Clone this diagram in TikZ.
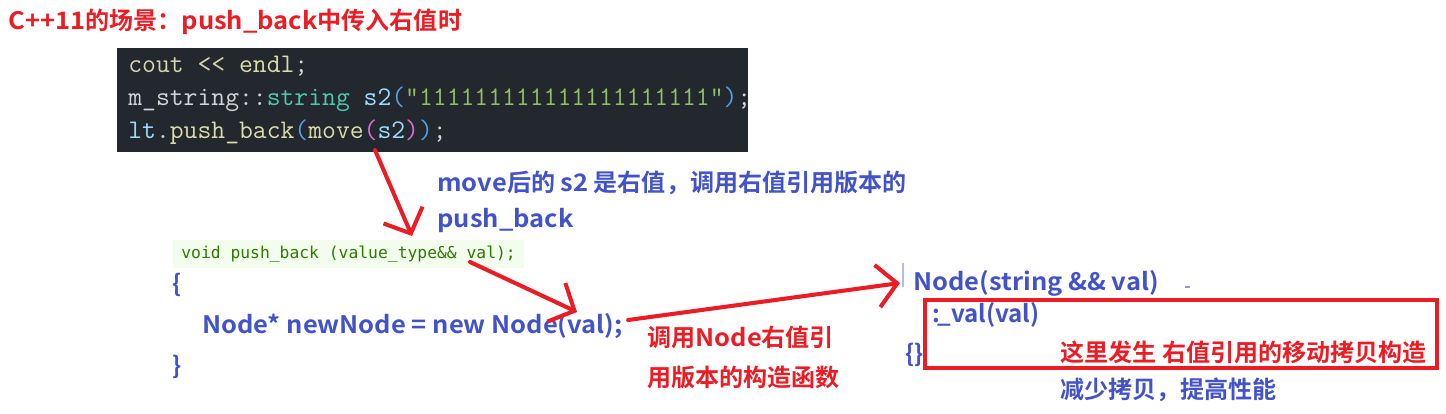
\documentclass[tikz,border=0pt]{standalone}
\usepackage{fontspec}
\usetikzlibrary{arrows.meta}
\newfontfamily\cjk{Noto Sans CJK SC}[BoldFont={* Bold}]
\newfontfamily\latw{Noto Sans CJK SC}[BoldFont={* Bold}, FakeStretch=1.06]
\newfontfamily\declfont{DejaVu Sans Mono}
\newcommand\lat[1]{{\latw\bfseries #1}}
\definecolor{codebg}{HTML}{23272E}
\definecolor{hlred}{HTML}{EC1C24}
\definecolor{noteblue}{HTML}{4252C8}
\definecolor{greenbg}{HTML}{F3FDEE}
\definecolor{greentxt}{HTML}{2F7A00}
\definecolor{cpale}{HTML}{D8D2B0}
\definecolor{cyellow}{HTML}{DCDCAA}
\definecolor{cteal}{HTML}{4EC9B0}
\definecolor{cblue}{HTML}{9CDCFE}
\definecolor{cparen}{HTML}{4FA3E8}
\definecolor{cpink}{HTML}{DA70D6}
\definecolor{cstr}{HTML}{8CC265}
\definecolor{cwhite}{HTML}{D4D4D4}
\tikzset{
  note/.style={font=\cjk\bfseries\fontsize{13.7pt}{16pt}\selectfont, text=noteblue, inner sep=0pt, anchor=west},
  rednote/.style={note, text=hlred},
  latnote/.style={note, font=\latw\bfseries\fontsize{13.7pt}{16pt}\selectfont},
  codeline/.style={font=\ttfamily\fontsize{15.3pt}{18pt}\selectfont, text=cwhite, inner sep=0pt, anchor=west},
  redarrow/.style={draw=hlred, line width=2.3pt, line cap=round,
    -{Straight Barb[length=4mm,width=8.5mm]}},
}
\begin{document}
\begin{tikzpicture}[x=0.02cm,y=-0.02cm]
\useasboundingbox (0,0) rectangle (1446,413);
% title
\node[rednote] (title) at (8,22) {\lat{C++11}的场景：\lat{push\_back}中传入右值时};
% code screenshot
\node[fill=codebg, inner sep=0pt, minimum width=12.62cm, minimum height=2.08cm, anchor=north west] (codebox) at (117,48) {};
\node[codeline] (code1) at (128,66) {\textcolor{cpale}{cout} \textcolor{cpale}{<{}<} \textcolor{cyellow}{endl};};
\node[codeline] (code2) at (128,99) {m\_string::\textcolor{cteal}{string} \textcolor{cblue}{s2}\textcolor{cparen}{(}\textcolor{cstr}{"111111111111111111111"}\textcolor{cparen}{)};};
\node[codeline] (code3) at (128,132) {\textcolor{cblue}{lt}.\textcolor{cyellow}{push\_back}\textcolor{cparen}{(}\textcolor{cyellow}{move}\textcolor{cpink}{(}\textcolor{cblue}{s2}\textcolor{cpink}{)}\textcolor{cparen}{)};};
% note after move
\node[note] (movenote1) at (437,183) {\lat{move}后的 \lat{s2} 是右值，调用右值引用版本的};
\node[latnote] (movenote2) at (437,220) {push\_back};
% push_back body
\node[fill=greenbg, text=greentxt, font=\declfont\fontsize{9.3pt}{11pt}\selectfont, inner xsep=0.16cm, minimum height=0.56cm, anchor=west] (pbdecl) at (173,254) {void push\_back (value\_type\&\& val);};
\node[note] (lbrace) at (172,285) {\{};
\node[latnote] (newnode) at (202,326) {Node* newNode = new Node(val);};
\node[note] (rbrace) at (172,367) {\}};
\node[rednote] (callnote1) at (647,337) {调用\lat{Node}右值引};
\node[rednote] (callnote2) at (647,377) {用版本的构造函数};
% Node constructor
\node[latnote] (ctor) at (913,283) {Node(string \&\& val)};
\node[note] (ctorinit) at (932,315) {:\kern-1.5pt\_val(val)};
\node[note] (ctorbody) at (905,355) {\{\}};
\node[rednote] (movenote) at (1060,352) {这里发生 右值引用的移动拷贝构造};
\node[note] (perfnote) at (1060,390) {减少拷贝，提高性能};
\draw[hlred, line width=2.3pt] (925,300) rectangle (1437,368);
\draw[noteblue!40, line width=0.6pt] (903,263) -- (903,287);
\draw[noteblue!60, line width=0.8pt] (1185,287) -- (1190,287);
% arrows
\coordinate (mvfrom) at (375,150);
\coordinate (mvto) at (412,236);
\coordinate (valfrom) at (470,262);
\coordinate (valto) at (577,312);
\draw[redarrow] (mvfrom) -- (mvto);
\draw[redarrow] (valfrom) -- (valto);
\draw[redarrow] ([xshift=0.1cm,yshift=0.12cm]newnode.east) -- ([xshift=-0.26cm]ctor.west);
\end{tikzpicture}
\end{document}
